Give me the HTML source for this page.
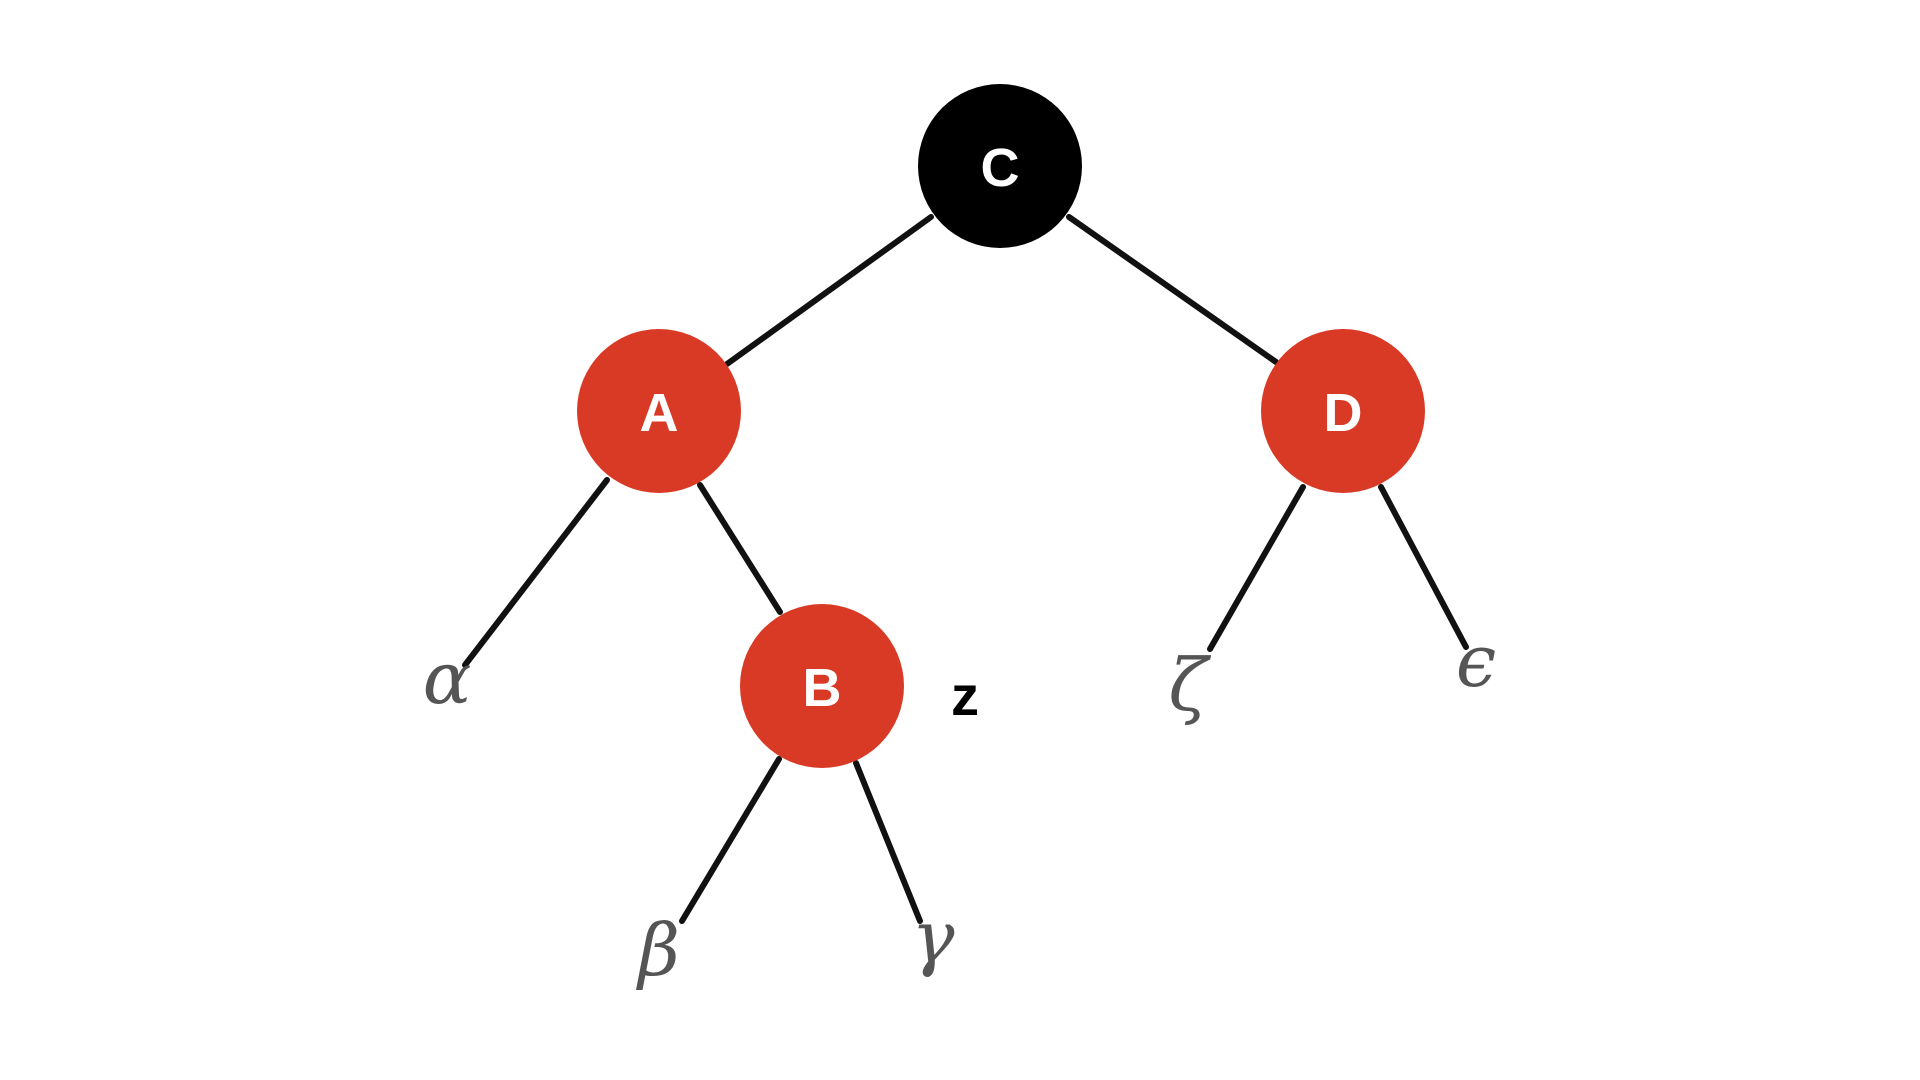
<!DOCTYPE html>
<html><head><meta charset="utf-8"><style>
html,body{margin:0;padding:0;background:#fff;width:1920px;height:1080px;overflow:hidden}
</style></head><body>
<svg width="1920" height="1080" viewBox="0 0 1920 1080" xmlns="http://www.w3.org/2000/svg">
<g stroke="#111" stroke-width="6" stroke-linecap="round">
<line x1="931" y1="217" x2="727" y2="364"/>
<line x1="1069" y1="217" x2="1276" y2="362"/>
<line x1="607" y1="480" x2="465" y2="665"/>
<line x1="700" y1="485" x2="780" y2="612"/>
<line x1="1303" y1="487" x2="1210" y2="649"/>
<line x1="1381" y1="487" x2="1466" y2="647"/>
<line x1="779" y1="759" x2="682" y2="921"/>
<line x1="856" y1="763" x2="920" y2="921"/>
</g>
<circle cx="1000" cy="166" r="82" fill="#000"/>
<circle cx="659" cy="411" r="82" fill="#d93a26"/>
<circle cx="1343" cy="411" r="82" fill="#d93a26"/>
<circle cx="822" cy="686" r="82" fill="#d93a26"/>
<g font-family="Liberation Sans, sans-serif" font-size="54" fill="#fff" text-anchor="middle" font-weight="bold">
<text x="1000" y="186">C</text>
<text x="659" y="431">A</text>
<text x="1343" y="431">D</text>
<text x="822" y="706">B</text>
</g>
<text x="965" y="715" font-family="Liberation Sans, sans-serif" font-size="56" font-weight="bold" fill="#000" text-anchor="middle">z</text>
<g font-family="DejaVu Serif, serif" font-style="italic" font-size="72" fill="#555" text-anchor="middle">
<text x="447" y="703">α</text>
<text x="659" y="975">β</text>
<text x="933" y="962">γ</text>
<text x="1188" y="710">ζ</text>
<text x="1476" y="686">ϵ</text>
</g>
</svg>
</body></html>
